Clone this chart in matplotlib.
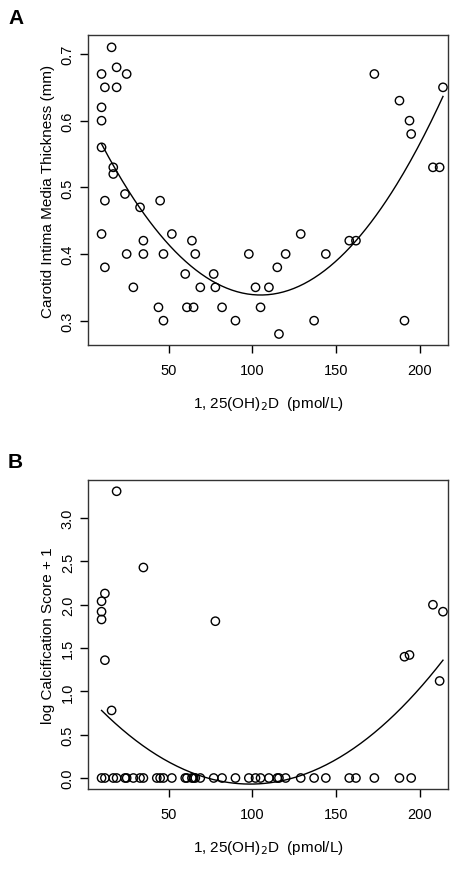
import numpy as np
import matplotlib
matplotlib.use("Agg")
import matplotlib.pyplot as plt

plt.rcParams['font.family'] = ['Liberation Sans', 'DejaVu Sans']

a_x = [10,10,10,10,10,12,12,12,16,17,17,19,19,25,24,25,29,33,35,35,45,44,47,47,52,60,61,65,64,66,69,77,78,82,90,98,102,105,110,115,116,120,129,137,144,158,162,173,188,191,194,195,208,212,214]
a_y = [0.67,0.62,0.60,0.56,0.43,0.65,0.48,0.38,0.71,0.53,0.52,0.68,0.65,0.67,0.49,0.40,0.35,0.47,0.42,0.40,0.48,0.32,0.30,0.40,0.43,0.37,0.32,0.32,0.42,0.40,0.35,0.37,0.35,0.32,0.30,0.40,0.35,0.32,0.35,0.38,0.28,0.40,0.43,0.30,0.40,0.42,0.42,0.67,0.63,0.30,0.60,0.58,0.53,0.53,0.65]

b_x_pos = [19,35,12,10,10,10,78,12,16,208,214,191,194,212]
b_y_pos = [3.31,2.43,2.13,2.04,1.92,1.83,1.81,1.36,0.78,2.00,1.92,1.40,1.42,1.12]
b_x_zero = [10,12,17,19,24,25,29,33,35,43,45,47,52,60,61,64,65,66,69,77,82,90,98,102,105,110,115,116,120,129,137,144,158,162,173,188,195]

# fitted curve of panel B (x, y)
b_fit_x = [10, 100, 214]
b_fit_y = [0.78, -0.07, 1.36]

fig = plt.figure(figsize=(4.52, 8.70), dpi=100)
W, H = 452, 870
axA = fig.add_axes([88/W, 1-346/H, (448-88)/W, (346-36)/H])
axB = fig.add_axes([88/W, 1-790/H, (448-88)/W, (790-481)/H])

def style(ax):
    for s in ax.spines.values():
        s.set_linewidth(1.0); s.set_color('#333333')
    ax.tick_params(direction='out', length=6, labelsize=10.5, width=1)
    ax.tick_params(axis='x', pad=7)
    ax.set_xticks([50, 100, 150, 200])
    for lab in ax.get_yticklabels():
        lab.set_rotation(90); lab.set_va('center')

xs = np.linspace(10, 214, 200)
axA.scatter(a_x, a_y, s=36, facecolors='none', edgecolors='black', linewidths=1.0)
cA = np.polyfit(a_x, a_y, 2)
axA.plot(xs, np.polyval(cA, xs), color='black', lw=1.0)
axA.set_xlim(1.9, 217); axA.set_ylim(0.2635, 0.7285)
axA.set_yticks([0.3, 0.4, 0.5, 0.6, 0.7])
axA.set_ylabel('Carotid Intima Media Thickness (mm)', fontsize=11)
axA.set_xlabel('1, 25(OH)$_2$D  (pmol/L)', fontsize=11, labelpad=12)
style(axA)

bx = b_x_pos + b_x_zero
by = b_y_pos + [0.0]*len(b_x_zero)
axB.scatter(bx, by, s=36, facecolors='none', edgecolors='black', linewidths=1.0)
cB = np.polyfit(b_fit_x, b_fit_y, 2)
axB.plot(xs, np.polyval(cB, xs), color='black', lw=1.0)
axB.set_xlim(1.9, 217); axB.set_ylim(-0.127, 3.44)
axB.set_yticks([0, 0.5, 1.0, 1.5, 2.0, 2.5, 3.0])
axB.set_yticklabels(['0.0','0.5','1.0','1.5','2.0','2.5','3.0'])
axB.set_ylabel('log Calcification Score + 1', fontsize=11)
axB.set_xlabel('1, 25(OH)$_2$D  (pmol/L)', fontsize=11, labelpad=12)
style(axB)

fig.text(8/W, 1-18/H, 'A', fontsize=15, fontweight='bold', va='center')
fig.text(8/W, 1-463/H, 'B', fontsize=15, fontweight='bold', va='center')
fig.savefig('out.png', dpi=100)
